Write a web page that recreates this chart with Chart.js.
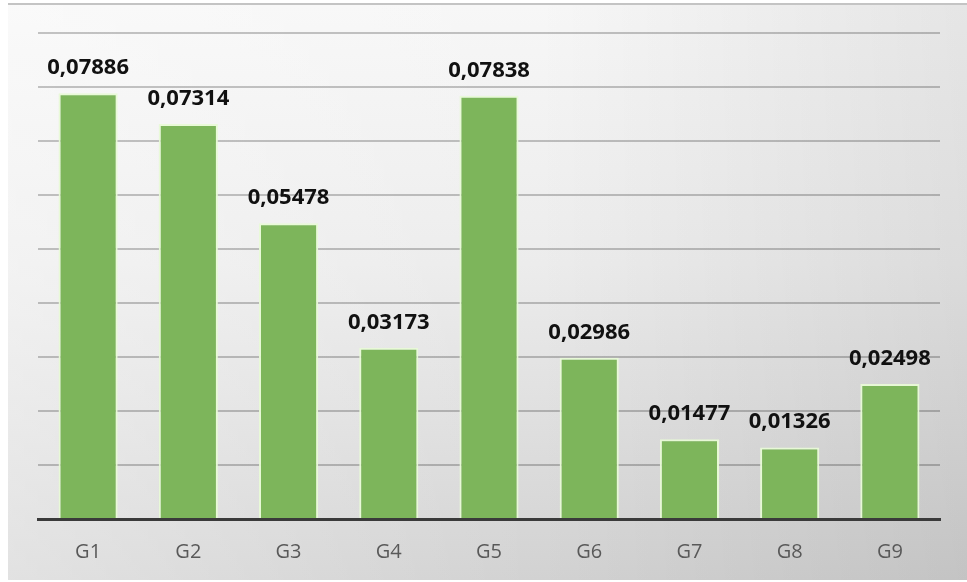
<!DOCTYPE html>
<html>
<head>
<meta charset="utf-8">
<script src="https://cdn.jsdelivr.net/npm/chart.js@4/dist/chart.umd.min.js"></script>
<style>
  html, body { margin: 0; padding: 0; background: #ffffff; }
  #wrap { position: relative; width: 967px; height: 582px; }
  #frame {
    position: absolute; left: 8px; top: 3px; right: 0; bottom: 2px;
    border-top: 2px solid #c4c4c4;
    background:
      linear-gradient(to right, rgba(255,255,255,0.35) 0%, rgba(255,255,255,0) 55%, rgba(0,0,0,0.07) 100%),
      linear-gradient(to bottom, #f7f7f7 0%, #ececec 45%, #d2d2d2 100%);
  }
  canvas { position: absolute; left: 0; top: 0; }
</style>
</head>
<body>
<div id="wrap">
  <div id="frame"></div>
  <canvas id="c" width="967" height="582"></canvas>
</div>
<script>
const categories = ['G1', 'G2', 'G3', 'G4', 'G5', 'G6', 'G7', 'G8', 'G9'];
const values = [0.07886, 0.07314, 0.05478, 0.03173, 0.07838, 0.02986, 0.01477, 0.01326, 0.02498];
const axisMax = 0.09;
const axisStep = 0.01;

// Writes each bar's value above it, with a decimal comma.
const valueLabels = {
  id: 'valueLabels',
  afterDatasetsDraw(chart) {
    const ctx = chart.ctx;
    const meta = chart.getDatasetMeta(0);
    ctx.save();
    ctx.font = 'bold 22px "Open Sans", sans-serif';
    ctx.fillStyle = '#111111';
    ctx.textAlign = 'center';
    ctx.textBaseline = 'alphabetic';
    meta.data.forEach((bar, i) => {
      const txt = values[i].toFixed(5).replace('.', ',');
      ctx.fillText(txt, bar.x, bar.y - 19);
    });
    ctx.restore();
  }
};

new Chart(document.getElementById('c'), {
  type: 'bar',
  data: {
    labels: categories,
    datasets: [{
      data: values,
      backgroundColor: '#7db55b',
      borderColor: 'rgba(232,250,214,0.95)',
      borderWidth: 2,
      borderSkipped: 'bottom',
      barPercentage: 0.59,
      categoryPercentage: 1.0
    }]
  },
  options: {
    responsive: false,
    animation: false,
    layout: { padding: { left: 38, right: 27, top: 33, bottom: 19 } },
    plugins: { legend: { display: false }, tooltip: { enabled: false } },
    scales: {
      x: {
        grid: { display: false, drawTicks: false },
        border: { display: true, color: '#3a3a3a', width: 3 },
        ticks: {
          color: '#595959',
          padding: 21,
          font: { family: '"Open Sans", sans-serif', size: 20 }
        },
        afterFit(scale) { scale.height = 44; }
      },
      y: {
        min: 0,
        max: axisMax,
        ticks: { display: false, stepSize: axisStep },
        grid: { color: 'rgba(0,0,0,0.22)', lineWidth: 2, drawTicks: false },
        border: { display: false }
      }
    }
  },
  plugins: [valueLabels]
});
</script>
</body>
</html>
